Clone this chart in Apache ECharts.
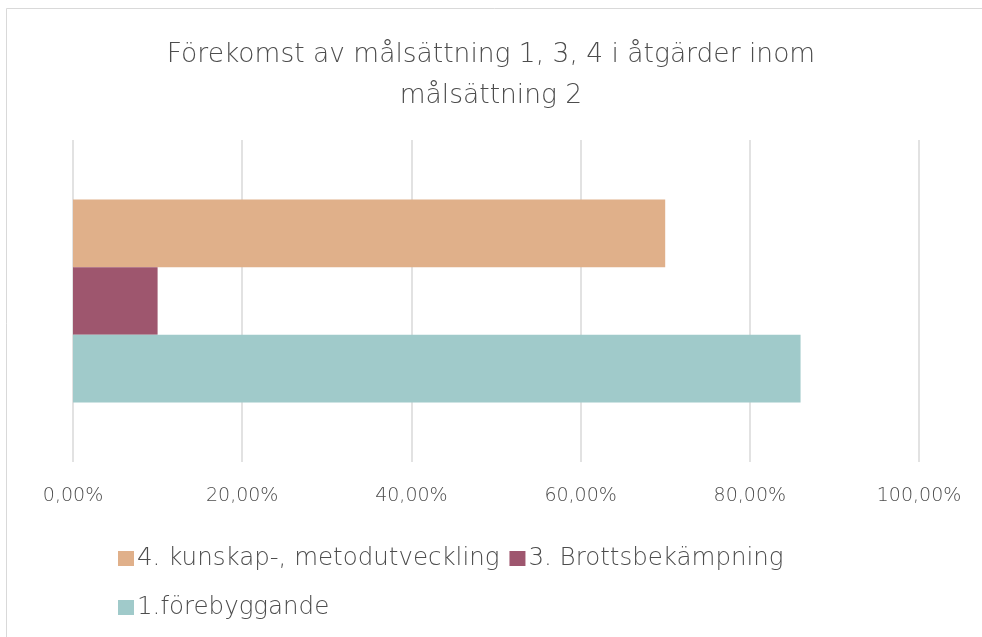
<!DOCTYPE html>
<html>
<head>
<meta charset="utf-8">
<script src="https://cdn.jsdelivr.net/npm/echarts@6/dist/echarts.min.js"></script>
<style>
  html, body { margin: 0; padding: 0; background: #fff; }
  #chart { width: 982px; height: 637px; }
</style>
</head>
<body>
<div id="chart"></div>
<script>
const categories = ['Mål 2']
const seriesNames = ['4. kunskap-, metodutveckling', '3. Brottsbekämpning', '1.förebyggande']
const seriesValues = [[0.70], [0.10], [0.86]]
const seriesColors = ['#E0B08A', '#9E566E', '#A0CACA']
const xTicks = [0, 0.2, 0.4, 0.6, 0.8, 1]

const font = 'DejaVu Sans'
const textColor = '#4d4d4d'

const chart = echarts.init(document.getElementById('chart'))

const series = seriesNames.map((name, i) => ({
  name: name,
  type: 'bar',
  data: seriesValues[i],
  barGap: '0%',
  barCategoryGap: '37%',
  itemStyle: { color: seriesColors[i] }
}))

const legendText = { fontFamily: font, fontWeight: 200, fontSize: 24.5, color: textColor, padding: [0, 0, 0, -2] }

chart.setOption({
  backgroundColor: '#fff',
  animation: false,
  graphic: [{
    type: 'rect',
    shape: { x: 6.5, y: 8.5, width: 1000, height: 700 },
    style: { fill: 'none', stroke: '#d9d9d9', lineWidth: 1 },
    silent: true
  }],
  title: {
    text: 'Förekomst av målsättning 1, 3, 4 i åtgärder inom\nmålsättning 2',
    left: 'center',
    top: 30,
    textStyle: {
      fontFamily: font,
      fontWeight: 200,
      fontSize: 26.5,
      lineHeight: 41,
      color: textColor
    }
  },
  legend: [{
    data: [seriesNames[0], seriesNames[1]],
    left: 113,
    top: 541,
    itemWidth: 16,
    itemHeight: 15,
    itemGap: 10,
    icon: 'rect',
    textStyle: legendText
  }, {
    data: [seriesNames[2]],
    left: 113,
    top: 590,
    itemWidth: 16,
    itemHeight: 15,
    icon: 'rect',
    textStyle: legendText
  }],
  grid: {
    left: 73,
    right: 63,
    top: 140,
    bottom: 175
  },
  xAxis: {
    type: 'value',
    min: 0,
    max: 1,
    interval: 0.2,
    axisLine: { show: false },
    axisTick: { show: false },
    splitLine: { lineStyle: { color: '#d9d9d9', width: 1.5 } },
    axisLabel: {
      margin: 25,
      fontFamily: font,
      fontWeight: 200,
      fontSize: 19,
      color: textColor,
      formatter: v => {
        const t = xTicks.find(x => Math.abs(x - v) < 1e-9)
        return (t * 100).toFixed(2).replace('.', ',') + '%'
      }
    }
  },
  yAxis: {
    type: 'category',
    data: categories,
    inverse: true,
    axisLine: { show: false },
    axisTick: { show: false },
    axisLabel: { show: false }
  },
  series: series
})
</script>
</body>
</html>
